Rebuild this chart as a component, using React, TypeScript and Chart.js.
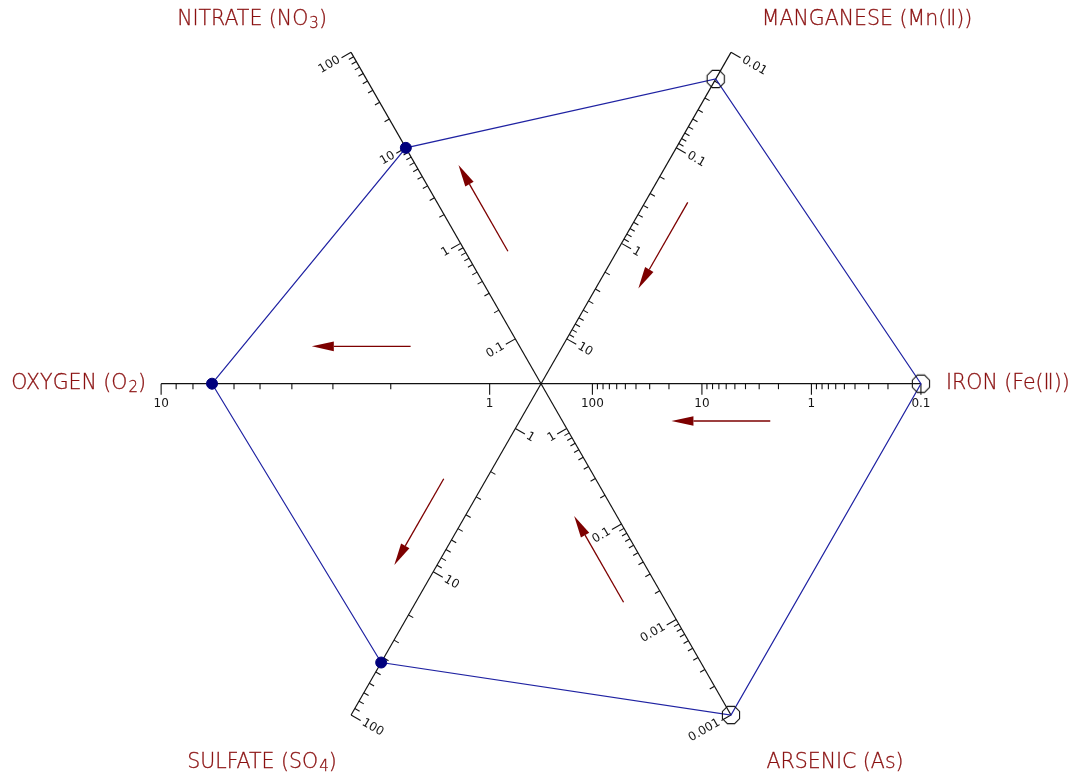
import { useEffect, useRef } from 'react';
import { Chart, registerables } from 'chart.js';

Chart.register(...registerables);

// ---- Data -----------------------------------------------------------------
// Axes counter-clockwise from the right-hand (iron) axis, angle in degrees.
const axisKeys = ['iron', 'manganese', 'nitrate', 'oxygen', 'sulfate', 'arsenic'];
const axisAngles = [0, 60, 120, 180, 240, 300];

// Tick labels of each log axis, from the centre outwards.
const ironTicks = ['100', '10', '1', '0.1'];
const manganeseTicks = ['10', '1', '0.1', '0.01'];
const nitrateTicks = ['0.1', '1', '10', '100'];
const oxygenTicks = ['1', '10'];
const sulfateTicks = ['1', '10', '100'];
const arsenicTicks = ['1', '0.1', '0.01', '0.001'];

// Sample concentrations, same order as axisKeys.
const sampleValues = [0.1, 0.019, 10, 7, 43, 0.001];
// Oxidised species are drawn filled, reduced species hollow.
const markerFilled = [false, false, true, true, true, false];

// Axis titles: [text, isSubscript] runs.
const ironTitle: [string, boolean][] = [['IRON (Fe(Ⅱ))', false]];
const manganeseTitle: [string, boolean][] = [['MANGANESE (Mn(Ⅱ))', false]];
const nitrateTitle: [string, boolean][] = [['NITRATE (NO', false], ['3', true], [')', false]];
const oxygenTitle: [string, boolean][] = [['OXYGEN (O', false], ['2', true], [')', false]];
const sulfateTitle: [string, boolean][] = [['SULFATE (SO', false], ['4', true], [')', false]];
const arsenicTitle: [string, boolean][] = [['ARSENIC (As)', false]];

const axisTicks = [ironTicks, manganeseTicks, nitrateTicks, oxygenTicks, sulfateTicks, arsenicTicks];
const axisTitles = [ironTitle, manganeseTitle, nitrateTitle, oxygenTitle, sulfateTitle, arsenicTitle];

// ---- Layout ---------------------------------------------------------------
const W = 1087;
const H = 778;
const CENTER = { x: 541, y: 383.6 };
const Y_STRETCH = 1.012;
const R_INNER = 52; // first labelled tick
const R_OUTER = 384.5; // end of each axis
const ARROW_NEAR = 132;
const ARROW_FAR = 232;
const ARROW_OFFSET = 37.5;

// Title anchors in canvas pixels: [x, y, align]
const titleAnchors: [number, number, CanvasTextAlign][] = [
  [946, 384, 'left'],
  [867, 20, 'center'],
  [252, 20, 'center'],
  [146, 384, 'right'],
  [262, 763, 'center'],
  [835, 763, 'center'],
];

const AXIS_COLOR = '#111111';
const TITLE_COLOR = '#8a1010';
const ARROW_COLOR = '#7d0000';
const POLY_COLOR = '#1f22a2';
const DOT_COLOR = '#00007d';
const FONT = '"DejaVu Sans", "Liberation Sans", sans-serif';

const log10 = (v: number) => Math.log(v) / Math.LN10;

function radiusFor(ticks: string[], v: number) {
  const lo = log10(parseFloat(ticks[0]));
  const hi = log10(parseFloat(ticks[ticks.length - 1]));
  const t = (log10(v) - lo) / (hi - lo);
  return R_INNER + t * (R_OUTER - R_INNER);
}

function polar(angleDeg: number, r: number) {
  const a = (angleDeg * Math.PI) / 180;
  return { x: r * Math.cos(a), y: r * Math.sin(a) };
}

function makeOctagon() {
  const size = 22;
  const c = document.createElement('canvas');
  c.width = size;
  c.height = size;
  const g = c.getContext('2d')!;
  g.strokeStyle = '#111';
  g.lineWidth = 1.1;
  g.beginPath();
  for (let i = 0; i < 8; i++) {
    const a = (Math.PI / 4) * i + Math.PI / 8;
    const x = size / 2 + 9.3 * Math.cos(a);
    const y = size / 2 + 9.3 * Math.sin(a);
    if (i === 0) g.moveTo(x, y);
    else g.lineTo(x, y);
  }
  g.closePath();
  g.stroke();
  return c;
}

function drawRich(
  ctx: CanvasRenderingContext2D,
  parts: [string, boolean][],
  x: number,
  y: number,
  align: CanvasTextAlign
) {
  const mainFont = `200 20.5px ${FONT}`;
  const subFont = `200 15px ${FONT}`;
  const widths = parts.map(([t, sub]) => {
    ctx.font = sub ? subFont : mainFont;
    return ctx.measureText(t).width + (sub ? 1 : 0);
  });
  const total = widths.reduce((a, b) => a + b, 0);
  let cx = align === 'left' ? x : align === 'right' ? x - total : x - total / 2;
  ctx.textAlign = 'left';
  ctx.textBaseline = 'middle';
  ctx.lineWidth = 0.3;
  parts.forEach(([t, sub], i) => {
    ctx.font = sub ? subFont : mainFont;
    const tx = cx + (sub ? 1 : 0);
    const ty = y + (sub ? 4 : 0);
    ctx.fillText(t, tx, ty);
    ctx.strokeText(t, tx, ty);
    cx += widths[i];
  });
}

const diagramPlugin = {
  id: 'hexDiagram',
  beforeDatasetsDraw(chart: any) {
    const ctx: CanvasRenderingContext2D = chart.ctx;
    const sx = chart.scales.x;
    const sy = chart.scales.y;
    const toPx = (p: { x: number; y: number }) => ({
      x: sx.getPixelForValue(p.x),
      y: sy.getPixelForValue(p.y),
    });
    ctx.save();
    const c = toPx({ x: 0, y: 0 });

    axisAngles.forEach((angle, i) => {
      const ticks = axisTicks[i];
      const e = toPx(polar(angle, R_OUTER));
      // axis line
      ctx.strokeStyle = AXIS_COLOR;
      ctx.lineWidth = 1.2;
      ctx.beginPath();
      ctx.moveTo(c.x, c.y);
      ctx.lineTo(e.x, e.y);
      ctx.stroke();

      // tick direction: perpendicular to the axis, pointing down the page
      const len = Math.hypot(e.x - c.x, e.y - c.y);
      const d = { x: (e.x - c.x) / len, y: (e.y - c.y) / len };
      let t = { x: -d.y, y: d.x };
      if (t.y < 0) t = { x: d.y, y: -d.x };
      if (Math.abs(t.y) < 1e-6) t = { x: 0, y: 1 };

      const vals = ticks.map((s) => parseFloat(s));
      const kMin = Math.round(log10(Math.min(...vals)));
      const kMax = Math.round(log10(Math.max(...vals)));

      ctx.lineWidth = 1.1;
      for (let k = kMin; k <= kMax; k++) {
        for (let m = 1; m <= 9; m++) {
          if (k === kMax && m > 1) break;
          const v = m * Math.pow(10, k);
          const p = toPx(polar(angle, radiusFor(ticks, v)));
          const tl = m === 1 ? 11 : 5.5;
          ctx.beginPath();
          ctx.moveTo(p.x, p.y);
          ctx.lineTo(p.x + t.x * tl, p.y + t.y * tl);
          ctx.stroke();
        }
      }

      // labels on major ticks
      ctx.fillStyle = '#151515';
      ctx.font = `12px ${FONT}`;
      ticks.forEach((label) => {
        const p = toPx(polar(angle, radiusFor(ticks, parseFloat(label))));
        const ex = p.x + t.x * 13.5;
        const ey = p.y + t.y * 13.5;
        ctx.save();
        if (Math.abs(t.x) < 0.01) {
          ctx.textAlign = 'center';
          ctx.textBaseline = 'top';
          ctx.fillText(label, ex, ey + 1);
        } else {
          ctx.translate(ex, ey);
          if (t.x > 0) {
            ctx.rotate(Math.atan2(t.y, t.x));
            ctx.textAlign = 'left';
          } else {
            ctx.rotate(Math.atan2(-t.y, -t.x));
            ctx.textAlign = 'right';
          }
          ctx.textBaseline = 'middle';
          ctx.fillText(label, 0, 0);
        }
        ctx.restore();
      });

      // direction-of-increase arrow beside the axis
      const a = (angle * Math.PI) / 180;
      const u = { x: Math.cos(a), y: Math.sin(a) };
      const n = { x: u.y, y: -u.x };
      const increasingOut = vals[vals.length - 1] > vals[0];
      const from = increasingOut ? ARROW_NEAR : ARROW_FAR;
      const to = increasingOut ? ARROW_FAR : ARROW_NEAR;
      const p0 = toPx({ x: u.x * from + n.x * ARROW_OFFSET, y: u.y * from + n.y * ARROW_OFFSET });
      const p1 = toPx({ x: u.x * to + n.x * ARROW_OFFSET, y: u.y * to + n.y * ARROW_OFFSET });
      const al = Math.hypot(p1.x - p0.x, p1.y - p0.y);
      const ad = { x: (p1.x - p0.x) / al, y: (p1.y - p0.y) / al };
      const headLen = 22;
      const headHalf = 4.8;
      const base = { x: p1.x - ad.x * headLen, y: p1.y - ad.y * headLen };
      ctx.strokeStyle = ARROW_COLOR;
      ctx.fillStyle = ARROW_COLOR;
      ctx.lineWidth = 1.3;
      ctx.beginPath();
      ctx.moveTo(p0.x, p0.y);
      ctx.lineTo(base.x, base.y);
      ctx.stroke();
      ctx.beginPath();
      ctx.moveTo(p1.x, p1.y);
      ctx.lineTo(base.x - ad.y * headHalf, base.y + ad.x * headHalf);
      ctx.lineTo(base.x + ad.y * headHalf, base.y - ad.x * headHalf);
      ctx.closePath();
      ctx.fill();
    });
    ctx.restore();
  },
  afterDatasetsDraw(chart: any) {
    const ctx: CanvasRenderingContext2D = chart.ctx;
    ctx.save();
    ctx.fillStyle = TITLE_COLOR;
    ctx.strokeStyle = TITLE_COLOR;
    axisTitles.forEach((parts, i) => {
      const [x, y, align] = titleAnchors[i];
      drawRich(ctx, parts, x, y, align);
    });
    ctx.restore();
  },
};

export default function App() {
  const canvasRef = useRef<HTMLCanvasElement | null>(null);

  useEffect(() => {
    if (!canvasRef.current) return;
    const octagon = makeOctagon();

    // Sample polygon: oxygen -> nitrate -> manganese -> iron -> arsenic -> sulfate -> oxygen
    const order = [3, 2, 1, 0, 5, 4, 3];
    const points = order.map((i) => polar(axisAngles[i], radiusFor(axisTicks[i], sampleValues[i])));
    const styles = order.map((i, k) => (k === order.length - 1 ? 'circle' : markerFilled[i] ? 'circle' : octagon));
    const radii = order.map((i, k) => (k === order.length - 1 ? 0 : markerFilled[i] ? 5.5 : 10));
    const fills = order.map((i) => (markerFilled[i] ? DOT_COLOR : 'rgba(0,0,0,0)'));

    const chart = new Chart(canvasRef.current, {
      type: 'scatter',
      data: {
        datasets: [
          {
            label: axisKeys.join(' / '),
            data: points,
            showLine: true,
            borderColor: POLY_COLOR,
            borderWidth: 1.2,
            pointStyle: styles as any,
            pointRadius: radii,
            pointBackgroundColor: fills,
            pointBorderColor: fills.map((f) => (f === DOT_COLOR ? DOT_COLOR : '#111')),
            pointBorderWidth: 1,
            clip: false as any,
          },
        ],
      },
      options: {
        animation: false,
        responsive: false,
        devicePixelRatio: 1,
        layout: { padding: 0 },
        events: [],
        scales: {
          x: { type: 'linear', min: -CENTER.x, max: W - CENTER.x, display: false },
          y: {
            type: 'linear',
            min: -(H - CENTER.y) / Y_STRETCH,
            max: CENTER.y / Y_STRETCH,
            display: false,
          },
        },
        plugins: {
          legend: { display: false },
          tooltip: { enabled: false },
        },
      },
      plugins: [diagramPlugin],
    });
    return () => chart.destroy();
  }, []);

  return (
    <div style={{ position: 'absolute', left: 0, top: 0, width: W, height: H, background: '#fff' }}>
      <canvas ref={canvasRef} width={W} height={H} style={{ display: 'block' }} />
    </div>
  );
}
